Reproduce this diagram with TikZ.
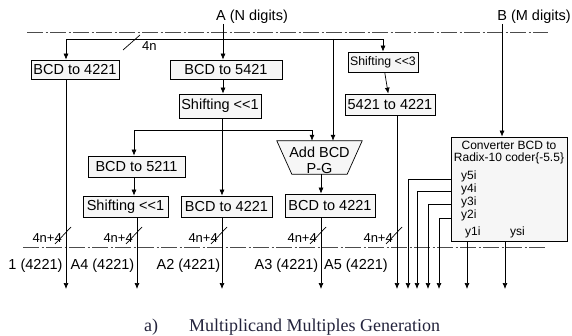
\documentclass[tikz,border=0pt]{standalone}
\usepackage{fontspec}
\setmainfont{Liberation Sans}
\newfontfamily\capfont{Liberation Serif}
\usetikzlibrary{arrows.meta,calc}
\definecolor{capcol}{RGB}{35,35,60}
\begin{document}
\begin{tikzpicture}[x=1pt,y=-1pt,
  box/.style={draw=black, fill=gray!7, line width=0.7pt, inner sep=0pt, font=\fontsize{14.5}{15}\selectfont},
  lbl/.style={inner sep=0pt, font=\fontsize{14.5}{15}\selectfont},
  sml/.style={inner sep=0pt, font=\fontsize{12}{13}\selectfont},
  bw/.style={inner sep=0pt, font=\fontsize{13}{14}\selectfont},
  wire/.style={line width=0.7pt},
  arr/.style={wire, -{Latex[length=6pt,width=5pt]}},
  dd/.style={line width=0.8pt, gray!60!black, dash pattern=on 16pt off 2.5pt on 2pt off 2.5pt},
]
\useasboundingbox (0,0) rectangle (572,336);

% input labels
\node[lbl] (A) at (252,17) {A (N digits)};
\node[lbl] (B) at (534,17) {B (M digits)};

% dash-dot lines
\coordinate (tl) at (27,32); \coordinate (tr) at (548,32);
\coordinate (bl) at (23,247); \coordinate (br) at (545,247);
\draw[dd] (tl) -- (tr);
\draw[dd] (bl) -- (br);

% boxes
\node[box, minimum width=88pt, minimum height=19pt] (b1) at (75,69.5) {BCD to 4221};
\node[box, minimum width=112pt, minimum height=19pt] (b2) at (226,69.5) {BCD to 5421};
\node[box, minimum width=82pt, minimum height=24pt] (b3) at (220,106) {Shifting {<}{<}1};
\node[box, minimum width=70pt, minimum height=20pt, font=\fontsize{12.3}{13}\selectfont] (b4) at (383,62) {Shifting {<}{<}3};
\node[box, minimum width=90pt, minimum height=21pt] (b9) at (390,104.5) {5421 to 4221};
\node[box, minimum width=97pt, minimum height=21pt] (b5) at (136.5,166.5) {BCD to 5211};
\node[box, minimum width=85pt, minimum height=21pt] (b6) at (125.5,206.5) {Shifting {<}{<}1};
\node[box, minimum width=91pt, minimum height=21pt] (b7) at (226.5,206.5) {BCD to 4221};
\node[box, minimum width=90pt, minimum height=23pt] (b8) at (330,205.5) {BCD to 4221};

% trapezoid adder
\node[inner sep=0pt, minimum width=85pt, minimum height=33pt] (tz) at (319.5,157.5) {};
\draw[box] (tz.north west) -- (tz.north east) -- ([xshift=-15pt]tz.south east) -- ([xshift=15pt]tz.south west) -- cycle;
\node[lbl, align=center] (tzt) at (319.5,160) {Add BCD\\[1pt]P-G};

% converter
\node[box, minimum width=116pt, minimum height=104pt] (cv) at (509,189) {};
\node[sml, align=center] (cvt) at (509,152.5) {Converter BCD to\\[-1pt]Radix-10 coder\{-5.5\}};
\node[sml, anchor=west] (y5) at (461,176) {y5i};
\node[sml, anchor=west] (y4) at (461,189) {y4i};
\node[sml, anchor=west] (y3) at (461,202) {y3i};
\node[sml, anchor=west] (y2) at (461,215) {y2i};
\node[sml, anchor=west] (y1) at (465,232) {y1i};
\node[sml, anchor=west] (ys) at (510,232) {ysi};

% column coordinates
\coordinate (c66) at (66,0);
\coordinate (c134) at (134,0);
\coordinate (c137) at (137,0);
\coordinate (c222) at (222,0);
\coordinate (c223) at (223,0);
\coordinate (c312) at (312,0);
\coordinate (c321) at (321,0);
\coordinate (c333) at (333,0);
\coordinate (c397) at (397,0);
\coordinate (bot) at (0,289);

% A distribution
\coordinate (Atop) at (223,24);
\coordinate (jA) at (223,39);
\draw[arr] (Atop) -- (Atop |- b2.north);
\draw[arr] (jA) -| (c66 |- b1.north);
\draw[arr] (jA) -| (b4.north);
\draw[arr] (c333 |- jA) -- (c333 |- tz.north);
\draw[arr] (c223 |- b2.south) -- (c223 |- b3.north);
\draw[arr] (b4) -- (b9);

% Shifting <<1 branch
\coordinate (j2) at (222,130);
\draw[arr] (c222 |- b3.south) -- (c222 |- b7.north);
\draw[arr] (j2) -| (c134 |- b5.north);
\draw[arr] (j2) -| (c312 |- tz.north);
\draw[arr] (c134 |- b5.south) -- (c134 |- b6.north);
\draw[arr] (c321 |- tz.south) -- (c321 |- b8.north);

% B
\coordinate (Btop) at (502,24);
\draw[arr] (Btop) -- (Btop |- cv.north);

% outputs
\draw[arr] (c66 |- b1.south) -- (c66 |- bot);
\draw[arr] (c137 |- b6.south) -- (c137 |- bot);
\draw[arr] (c222 |- b7.south) -- (c222 |- bot);
\draw[arr] (c321 |- b8.south) -- (c321 |- bot);
\draw[arr] (c397 |- b9.south) -- (c397 |- bot);

\coordinate (o5) at (451,179); \coordinate (k5) at (408,0);
\coordinate (o4) at (451,191); \coordinate (k4) at (417,0);
\coordinate (o3) at (451,204); \coordinate (k3) at (428,0);
\coordinate (o2) at (451,218); \coordinate (k2) at (439,0);
\coordinate (k1) at (467,0);
\coordinate (ks) at (505,0);
\draw[arr] (o5) -| (k5 |- bot);
\draw[arr] (o4) -| (k4 |- bot);
\draw[arr] (o3) -| (k3 |- bot);
\draw[arr] (o2) -| (k2 |- bot);
\draw[arr] (k1 |- cv.south) -- (k1 |- bot);
\draw[arr] (ks |- cv.south) -- (ks |- bot);

% bus-width marks
\coordinate (s0) at (131,42);
\draw[wire] ($(s0)+(-8,8)$) -- ($(s0)+(9,-7)$);
\node[bw, anchor=west] (n4n) at (142,46) {4n};
\foreach \x/\n in {66/w1,137/w2,222/w3,321/w4,397/w5}{
  \draw[wire] (\x-11,244) -- (\x+5,227);
  \node[bw, anchor=east] (\n) at (\x-4,238) {4n+4};
}

% output labels
\node[lbl] (l1) at (35.5,266) {1 (4221)};
\node[lbl] (l4) at (102.5,266) {A4 (4221)};
\node[lbl] (l2) at (188.5,266) {A2 (4221)};
\node[lbl] (l3) at (286.5,266) {A3 (4221)};
\node[lbl] (l5) at (356,266) {A5 (4221)};

% caption
\node[inner sep=0pt, anchor=base west, text=capcol, font=\capfont\fontsize{18}{20}\selectfont] (capA) at (144,331) {a)};
\node[inner sep=0pt, anchor=base west, text=capcol, font=\capfont\fontsize{18}{20}\selectfont] (capT) at (189,331) {Multiplicand Multiples Generation};
\end{tikzpicture}
\end{document}
